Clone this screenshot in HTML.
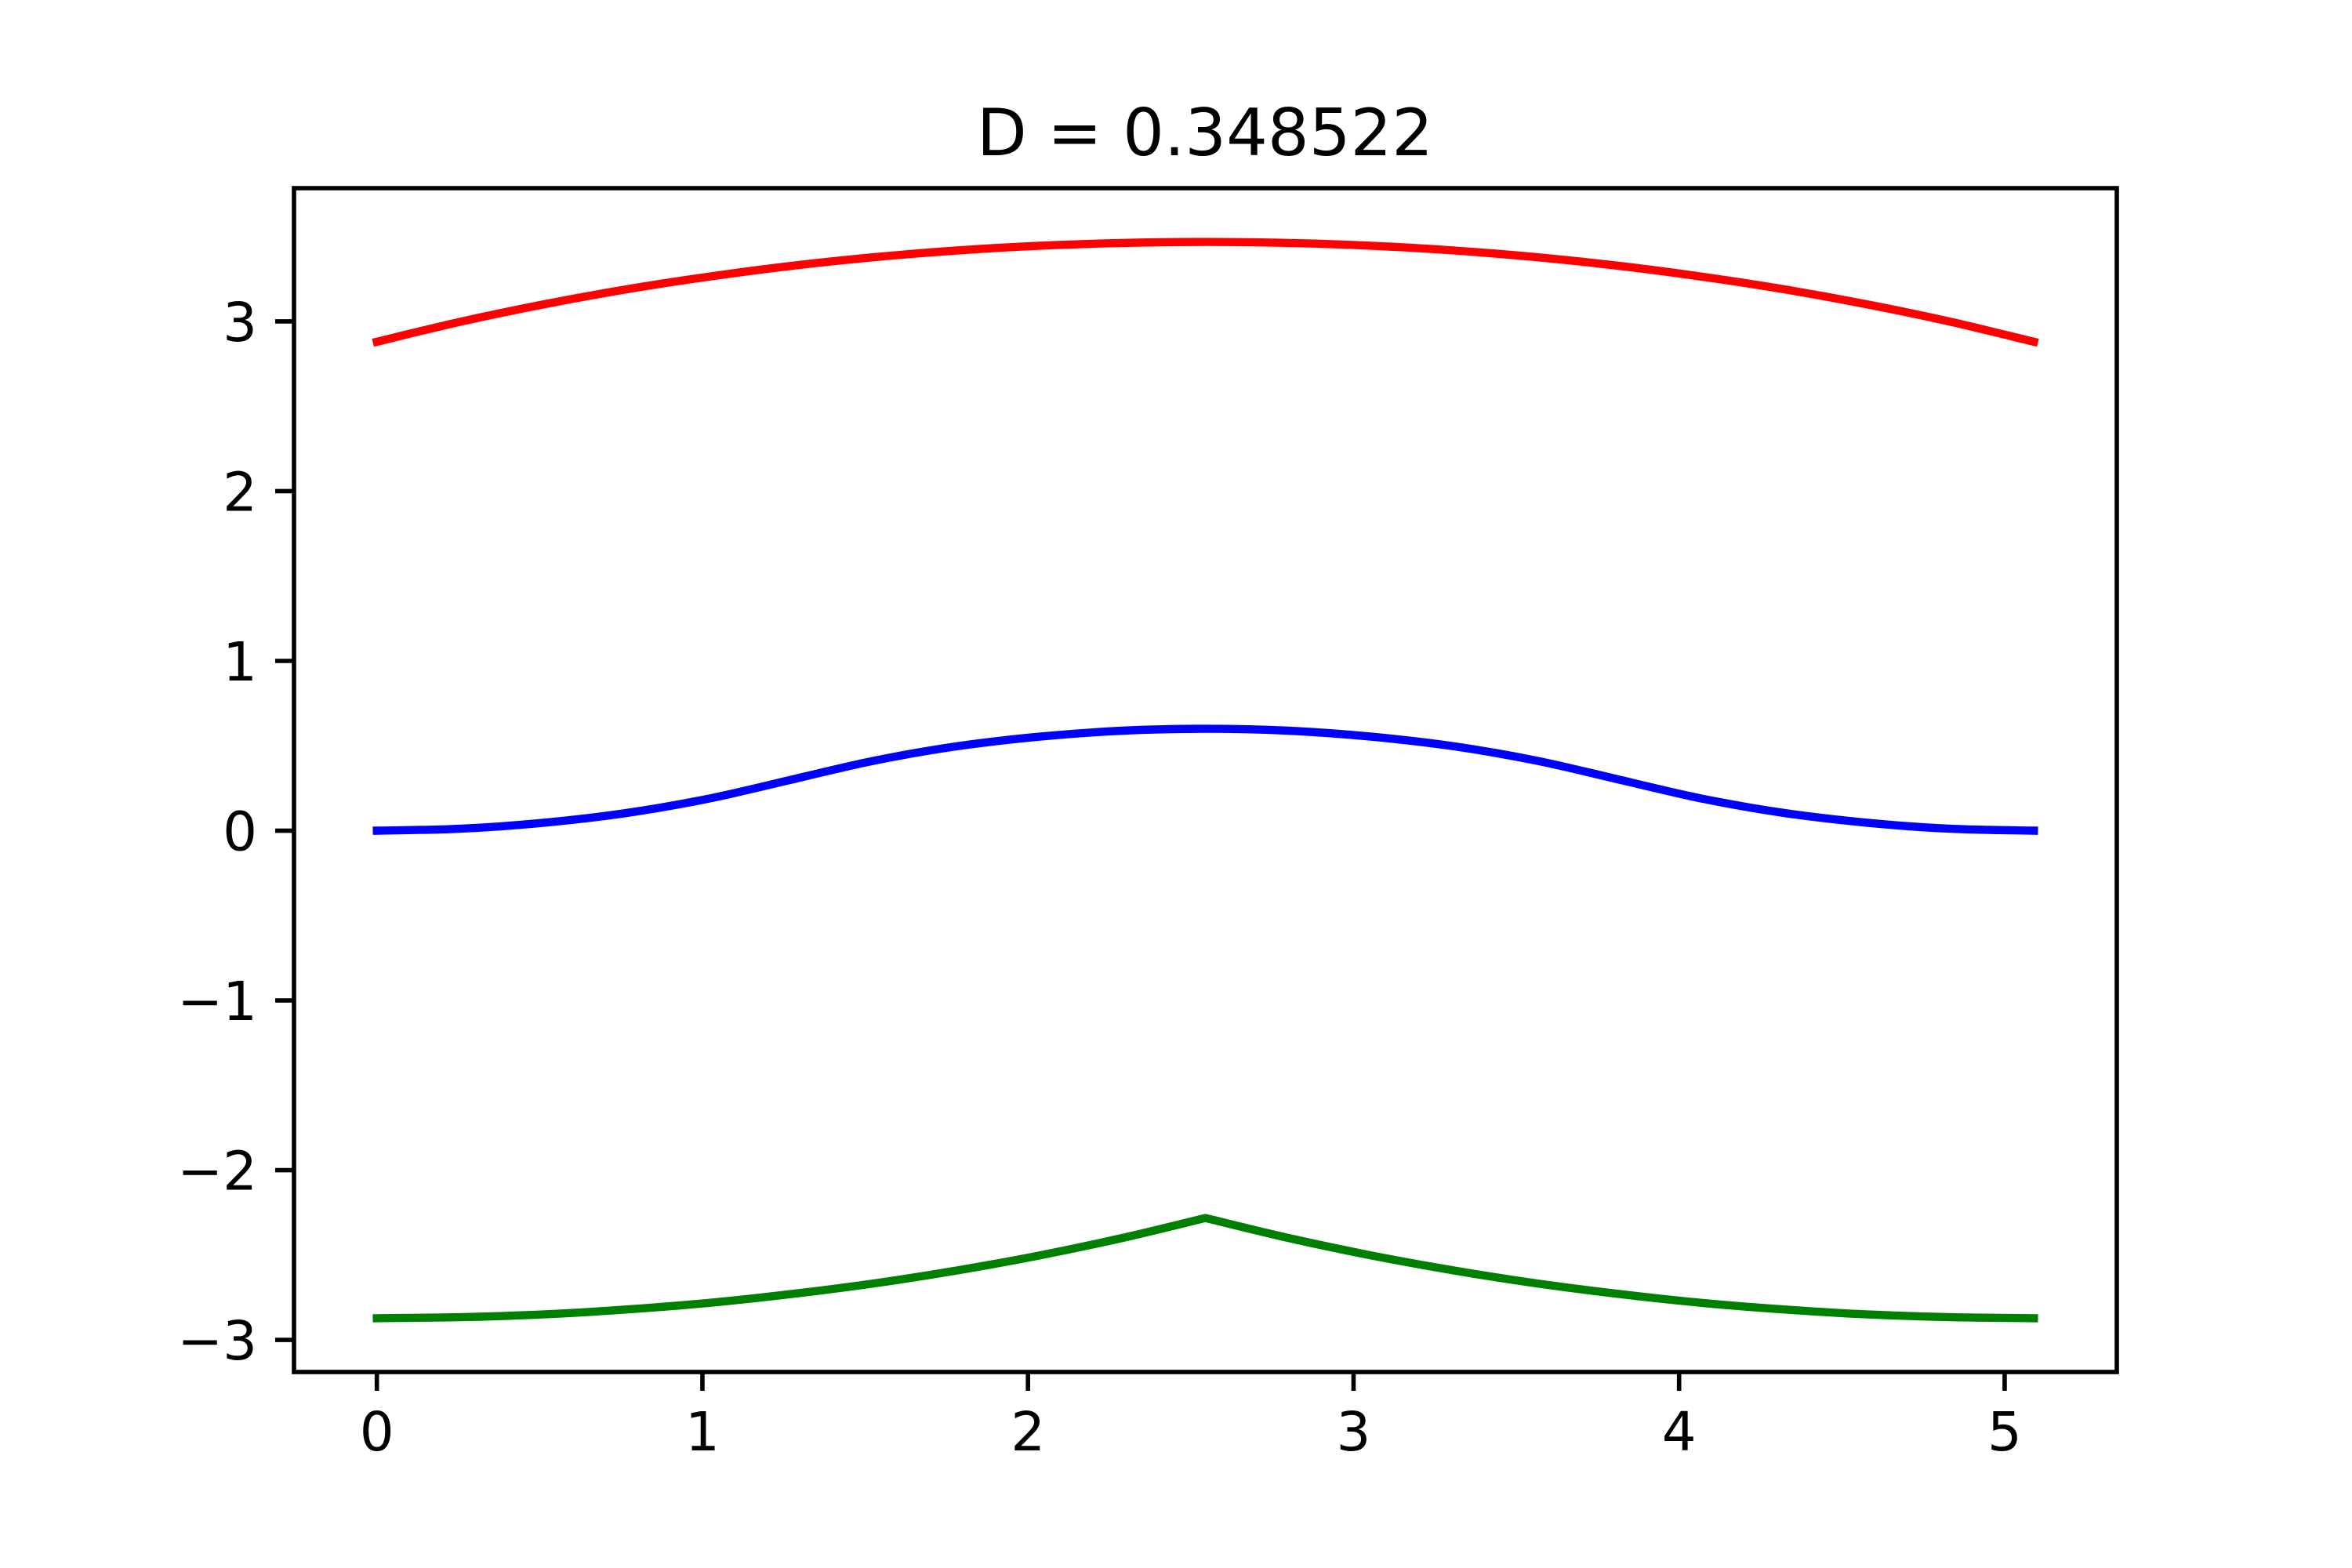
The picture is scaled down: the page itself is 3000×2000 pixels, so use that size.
<!DOCTYPE html>
<html><head><meta charset="utf-8"><style>
html,body{margin:0;padding:0;background:#fff;}
svg{display:block;font-family:"DejaVu Sans","Liberation Sans",sans-serif;}
</style></head><body>
<svg id="chart" width="3000" height="2000" viewBox="0 0 3000 2000" xmlns="http://www.w3.org/2000/svg">
<rect x="0" y="0" width="3000" height="2000" fill="#fff"/>
<text x="1537" y="198" font-size="83" text-anchor="middle" fill="#000">D = 0.348522</text>
<g id="plot"></g>
</svg>
<script>
const xValues = [0,0.2545,0.509,0.7635,1.018,1.2725,1.527,1.7815,2.036,2.2905,2.545,2.7995,3.054,3.3085,3.563,3.8175,4.072,4.3265,4.581,4.8355,5.09];
const redValues = [2.880,2.997,3.099,3.188,3.263,3.327,3.378,3.418,3.446,3.462,3.468,3.462,3.446,3.418,3.378,3.327,3.263,3.188,3.099,2.997,2.880];
const blueValues = [0,0.011,0.046,0.103,0.188,0.300,0.412,0.497,0.554,0.589,0.600,0.589,0.554,0.497,0.412,0.300,0.188,0.103,0.046,0.011,0];
const greenValues = [-2.872,-2.866,-2.850,-2.821,-2.782,-2.730,-2.667,-2.591,-2.502,-2.399,-2.282,-2.399,-2.502,-2.591,-2.667,-2.730,-2.782,-2.821,-2.850,-2.866,-2.872];
const blueKinks = [5,15];
const greenKinks = [10];
const xTicks = [0,1,2,3,4,5];
const yTicks = [-3,-2,-1,0,1,2,3];

const NS = "http://www.w3.org/2000/svg";
const L = 375, R = 2700, T = 240, B = 1750;
const xMin = -0.2545, xMax = 5.3445;
const yMin = -3.189, yMax = 3.785;
function sx(v){ return L + (v - xMin) / (xMax - xMin) * (R - L); }
function sy(v){ return B - (v - yMin) / (yMax - yMin) * (B - T); }
const g = document.getElementById('plot');
function mk(tag, attrs){ const e = document.createElementNS(NS, tag); for (const k in attrs) e.setAttribute(k, attrs[k]); g.appendChild(e); return e; }

function smoothSeg(pts){
  let d = '';
  for (let i = 0; i < pts.length - 1; i++){
    const p0 = pts[Math.max(0,i-1)], p1 = pts[i], p2 = pts[i+1], p3 = pts[Math.min(pts.length-1,i+2)];
    const c1x = p1[0] + (p2[0]-p0[0])/6, c1y = p1[1] + (p2[1]-p0[1])/6;
    const c2x = p2[0] - (p3[0]-p1[0])/6, c2y = p2[1] - (p3[1]-p1[1])/6;
    d += ' C'+c1x.toFixed(1)+','+c1y.toFixed(1)+' '+c2x.toFixed(1)+','+c2y.toFixed(1)+' '+p2[0].toFixed(1)+','+p2[1].toFixed(1);
  }
  return d;
}
function drawLine(vals, kinks, color, name){
  const pts = vals.map((v,i)=>[sx(xValues[i]), sy(v)]);
  const cuts = [0].concat(kinks, [pts.length-1]);
  let d = 'M'+pts[0][0].toFixed(1)+','+pts[0][1].toFixed(1);
  for (let k = 0; k < cuts.length-1; k++) d += smoothSeg(pts.slice(cuts[k], cuts[k+1]+1));
  const p = mk('path', {d:d, fill:'none', stroke:color, 'stroke-width':10.4, 'stroke-linejoin':'round', 'stroke-linecap':'square'});
  
  
}
drawLine(redValues, [], '#ff0000', 'red-series-line');
drawLine(blueValues, blueKinks, '#0000ff', 'blue-series-line');
drawLine(greenValues, greenKinks, '#008000', 'green-series-line');

const frame = mk('rect', {x:L, y:T, width:R-L, height:B-T, fill:'none', stroke:'#000', 'stroke-width':5.6});



xTicks.forEach(t=>{
  const x = sx(t);
  const tk = mk('line', {x1:x, x2:x, y1:B, y2:B+24, stroke:'#000', 'stroke-width':5.6});
  
  
  const lb = mk('text', {x:x, y:1850, 'font-size':69, 'text-anchor':'middle', fill:'#000'});
  lb.textContent = String(t);
  
  
});
yTicks.forEach(t=>{
  const y = sy(t);
  const tk = mk('line', {x1:L-24, x2:L, y1:y, y2:y, stroke:'#000', 'stroke-width':5.6});
  
  
  const lb = mk('text', {x:328, y:y+25, 'font-size':69, 'text-anchor':'end', fill:'#000'});
  lb.textContent = t < 0 ? '\u2212' + Math.abs(t) : String(t);
  
  
});
</script>
</body></html>
